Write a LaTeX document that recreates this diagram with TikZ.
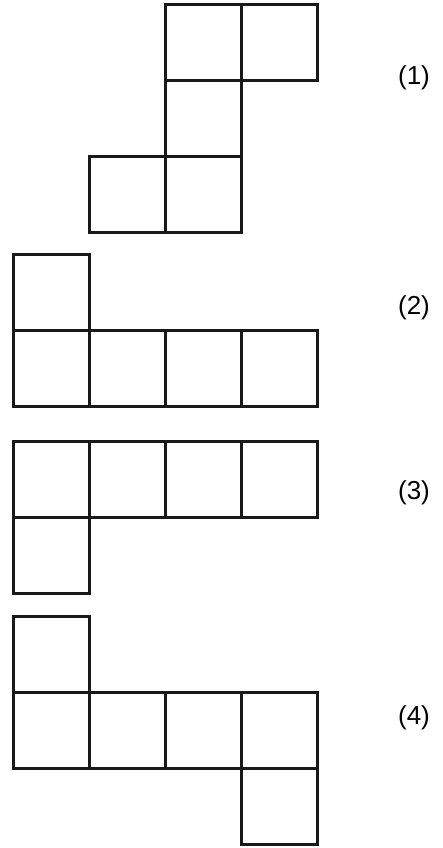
\documentclass[tikz,border=0pt]{standalone}
\usepackage{fontspec}
\setmainfont{Liberation Sans}
\begin{document}
\begin{tikzpicture}[x=1pt,y=-1pt,
  sq/.style={draw=black!90,line width=2.8pt,minimum size=76pt,inner sep=0pt,anchor=north west},
  lbl/.style={font=\fontsize{26}{30}\selectfont,inner sep=0pt}]
\useasboundingbox (0,0) rectangle (442,848);
% figure 1
\node[sq] (a1) at (164,3) {};
\node[sq] (a2) at (240,3) {};
\node[sq] (a3) at (164,79) {};
\node[sq] (a4) at (88,155) {};
\node[sq] (a5) at (164,155) {};
\node[lbl] (l1) at (414,78) {(1)};
% figure 2
\node[sq] (b1) at (12,253) {};
\node[sq] (b2) at (12,329) {};
\node[sq] (b3) at (88,329) {};
\node[sq] (b4) at (164,329) {};
\node[sq] (b5) at (240,329) {};
\node[lbl] (l2) at (414,308) {(2)};
% figure 3
\node[sq] (c1) at (12,440) {};
\node[sq] (c2) at (88,440) {};
\node[sq] (c3) at (164,440) {};
\node[sq] (c4) at (240,440) {};
\node[sq] (c5) at (12,516) {};
\node[lbl] (l3) at (414,493) {(3)};
% figure 4
\node[sq] (d1) at (12,615) {};
\node[sq] (d2) at (12,691) {};
\node[sq] (d3) at (88,691) {};
\node[sq] (d4) at (164,691) {};
\node[sq] (d5) at (240,691) {};
\node[sq] (d6) at (240,767) {};
\node[lbl] (l4) at (414,718) {(4)};
\end{tikzpicture}
\end{document}
